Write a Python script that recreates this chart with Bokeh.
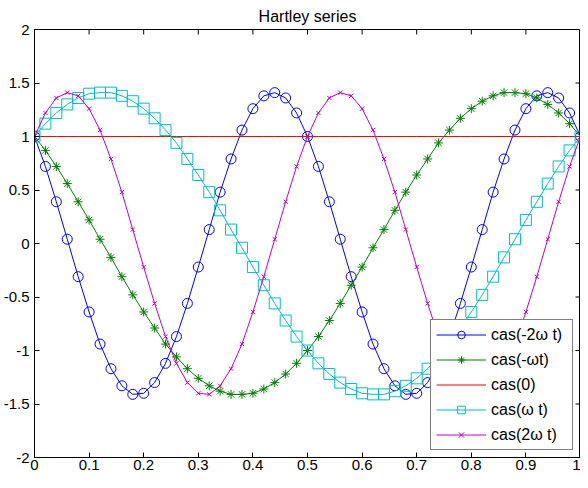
import math
from bokeh.plotting import figure
from bokeh.models import (Range1d, FixedTicker, NumeralTickFormatter,
                          Legend, LegendItem, ColumnDataSource)
from bokeh.embed import file_html
from bokeh.resources import INLINE

# ---- data ----
t = [0.00, 0.02, 0.04, 0.06, 0.08, 0.10, 0.12, 0.14, 0.16, 0.18,
     0.20, 0.22, 0.24, 0.26, 0.28, 0.30, 0.32, 0.34, 0.36, 0.38,
     0.40, 0.42, 0.44, 0.46, 0.48, 0.50, 0.52, 0.54, 0.56, 0.58,
     0.60, 0.62, 0.64, 0.66, 0.68, 0.70, 0.72, 0.74, 0.76, 0.78,
     0.80, 0.82, 0.84, 0.86, 0.88, 0.90, 0.92, 0.94, 0.96, 0.98, 1.00]

cas_m2w = [1.00, 0.72, 0.39, 0.04, -0.31, -0.64, -0.94, -1.17, -1.33, -1.41,
           -1.40, -1.30, -1.12, -0.87, -0.56, -0.22, 0.13, 0.48, 0.79, 1.06,
           1.26, 1.38, 1.41, 1.36, 1.22, 1.00, 0.72, 0.39, 0.04, -0.31,
           -0.64, -0.94, -1.17, -1.33, -1.41, -1.40, -1.30, -1.12, -0.87, -0.56,
           -0.22, 0.13, 0.48, 0.79, 1.06, 1.26, 1.38, 1.41, 1.36, 1.22, 1.00]

cas_mw = [1.00, 0.87, 0.72, 0.56, 0.39, 0.22, 0.04, -0.13, -0.31, -0.48,
          -0.64, -0.79, -0.94, -1.06, -1.17, -1.26, -1.33, -1.38, -1.41, -1.41,
          -1.40, -1.36, -1.30, -1.22, -1.12, -1.00, -0.87, -0.72, -0.56, -0.39,
          -0.22, -0.04, 0.13, 0.31, 0.48, 0.64, 0.79, 0.94, 1.06, 1.17,
          1.26, 1.33, 1.38, 1.41, 1.41, 1.40, 1.36, 1.30, 1.22, 1.12, 1.00]

cas_0 = [1.00] * len(t)

cas_w = [1.00, 1.12, 1.22, 1.30, 1.36, 1.40, 1.41, 1.41, 1.38, 1.33,
         1.26, 1.17, 1.06, 0.94, 0.79, 0.64, 0.48, 0.31, 0.13, -0.04,
         -0.22, -0.39, -0.56, -0.72, -0.87, -1.00, -1.12, -1.22, -1.30, -1.36,
         -1.40, -1.41, -1.41, -1.38, -1.33, -1.26, -1.17, -1.06, -0.94, -0.79,
         -0.64, -0.48, -0.31, -0.13, 0.04, 0.22, 0.39, 0.56, 0.72, 0.87, 1.00]

cas_2w = [1.00, 1.22, 1.36, 1.41, 1.38, 1.26, 1.06, 0.79, 0.48, 0.13,
          -0.22, -0.56, -0.87, -1.12, -1.30, -1.40, -1.41, -1.33, -1.17, -0.94,
          -0.64, -0.31, 0.04, 0.39, 0.72, 1.00, 1.22, 1.36, 1.41, 1.38,
          1.26, 1.06, 0.79, 0.48, 0.13, -0.22, -0.56, -0.87, -1.12, -1.30,
          -1.40, -1.41, -1.33, -1.17, -0.94, -0.64, -0.31, 0.04, 0.39, 0.72, 1.00]

labels = ["cas(-2\u03c9 t)", "cas(-\u03c9t)", "cas(0)", "cas(\u03c9 t)", "cas(2\u03c9 t)"]
x_ticks = [0, 0.1, 0.2, 0.3, 0.4, 0.5, 0.6, 0.7, 0.8, 0.9, 1]
y_ticks = [-2, -1.5, -1, -0.5, 0, 0.5, 1, 1.5, 2]
x_lim = (0, 1)
y_lim = (-2, 2)

FONT = "Liberation Sans"

p = figure(width=580, height=472, output_backend="svg", toolbar_location=None,
           x_range=Range1d(*x_lim), y_range=Range1d(*y_lim),
           min_border_left=30, min_border_right=0, min_border_top=24, min_border_bottom=0)
p.title.text = "Hartley series"
p.title.align = "center"
p.title.text_font = FONT
p.title.text_font_size = "16px"
p.title.text_font_style = "normal"
p.title.text_color = "black"

p.xgrid.visible = False
p.ygrid.visible = False
p.outline_line_color = "black"
p.outline_line_alpha = 1.0
p.background_fill_color = "white"
p.border_fill_color = "white"


def style_axis(ax, ticks, standoff):
    ax.ticker = FixedTicker(ticks=ticks)
    ax.formatter = NumeralTickFormatter(format="0.[0]")
    ax.major_tick_in = 5
    ax.major_tick_out = 0
    ax.minor_tick_in = 0
    ax.minor_tick_out = 0
    ax.axis_line_color = "black"
    ax.major_tick_line_color = "black"
    ax.major_label_text_font = FONT
    ax.major_label_text_color = "black"
    ax.major_label_text_font_size = "15px"
    ax.major_label_standoff = standoff


style_axis(p.xaxis[0], x_ticks, 2)
style_axis(p.yaxis[0], y_ticks, 5)

# mirrored tick marks on the top and right edges of the box (clipped to frame)
tick_src_top = ColumnDataSource(dict(x=x_ticks, y=[y_lim[1]] * len(x_ticks)))
tick_src_right = ColumnDataSource(dict(x=[x_lim[1]] * len(y_ticks), y=y_ticks))
p.scatter("x", "y", source=tick_src_top, marker="dash", size=10, angle=math.pi / 2,
          line_color="black", line_width=1)
p.scatter("x", "y", source=tick_src_right, marker="dash", size=10,
          line_color="black", line_width=1)

src = ColumnDataSource(dict(t=t, m2w=cas_m2w, mw=cas_mw, c0=cas_0, w=cas_w, w2=cas_2w))

BLUE = "#0000ff"
GREEN = "#008000"
RED = "#ff0000"
CYAN = "#00bfbf"
MAGENTA = "#bf00bf"

items = []
l1 = p.line("t", "m2w", source=src, line_color=BLUE, line_width=1)
s1 = p.scatter("t", "m2w", source=src, marker="circle", size=10,
               line_color=BLUE, fill_color=None, line_width=1)
items.append(LegendItem(label=labels[0], renderers=[l1, s1]))

l2 = p.line("t", "mw", source=src, line_color=GREEN, line_width=1)
s2 = p.scatter("t", "mw", source=src, marker="asterisk", size=9,
               line_color=GREEN, line_width=1)
items.append(LegendItem(label=labels[1], renderers=[l2, s2]))

l3 = p.line("t", "c0", source=src, line_color=RED, line_width=1)
items.append(LegendItem(label=labels[2], renderers=[l3]))

l4 = p.line("t", "w", source=src, line_color=CYAN, line_width=1)
s4 = p.scatter("t", "w", source=src, marker="square", size=11,
               line_color=CYAN, fill_color=None, line_width=1)
items.append(LegendItem(label=labels[3], renderers=[l4, s4]))

l5 = p.line("t", "w2", source=src, line_color=MAGENTA, line_width=1)
s5 = p.scatter("t", "w2", source=src, marker="x", size=6,
               line_color=MAGENTA, line_width=1)
items.append(LegendItem(label=labels[4], renderers=[l5, s5]))

legend = Legend(items=items, location="bottom_right",
                border_line_color="black", border_line_width=1,
                background_fill_color="white", background_fill_alpha=1.0,
                label_text_font=FONT, label_text_font_size="16px",
                label_text_color="black",
                glyph_width=50, glyph_height=19, label_height=19, label_width=76,
                spacing=6, padding=5, margin=7, label_standoff=5)
p.add_layout(legend)

open("out.html", "w").write(file_html(p, INLINE))
